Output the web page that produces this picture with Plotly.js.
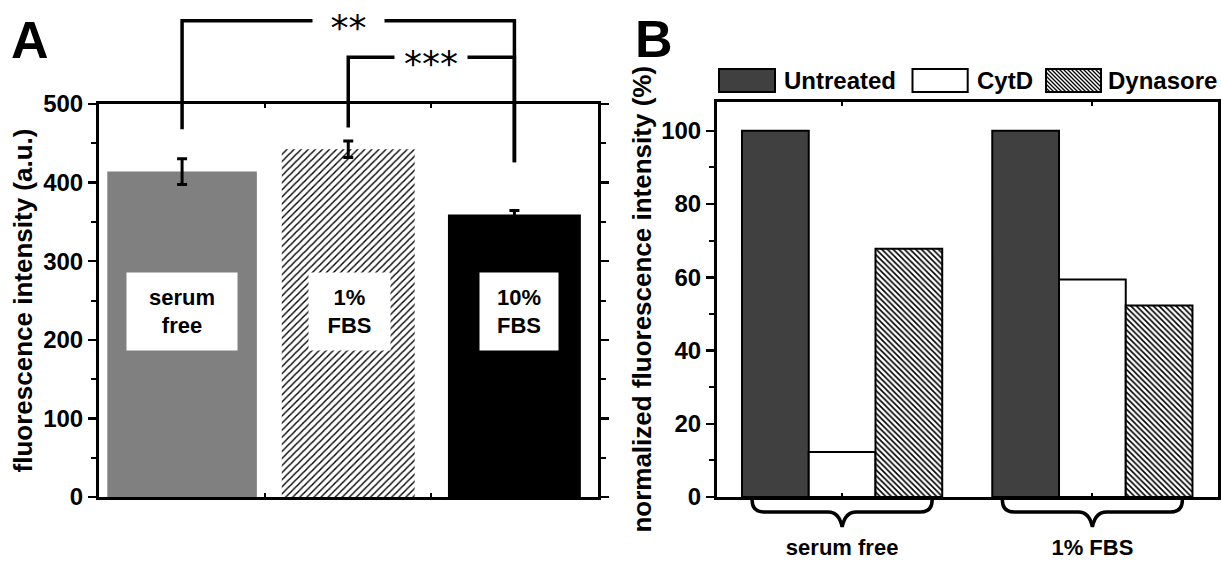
<!DOCTYPE html>
<html>
<head>
<meta charset="utf-8">
<script src="https://cdn.plot.ly/plotly-3.0.1.min.js"></script>
<style>
  html, body { margin: 0; padding: 0; background: #fff; }
  #chart { width: 1221px; height: 561px; }
</style>
</head>
<body>
<div id="chart"></div>
<script>
// ---- Panel A: fluorescence intensity by culture medium ----
const mediaA = ['serum free', '1% FBS', '10% FBS'];
const mediaLabelsA = ['serum<br>free', '1%<br>FBS', '10%<br>FBS'];
const intensityA = [414, 442.5, 359.5];
const intensityErrA = [16.5, 10.5, 5];

// significance comparisons: [first index, second index, label]
const comparisonsA = [[0, 2, '**'], [1, 2, '***']];

// ---- Panel B: normalized intensity by treatment ----
const mediaB = ['serum free', '1% FBS'];
const treatmentsB = ['Untreated', 'CytD', 'Dynasore'];
const untreatedB = [100, 100];
const cytdB = [12.3, 59.4];
const dynasoreB = [67.8, 52.3];

// ---- geometry and style ----
const W = 1221, H = 561;
const FONT = '"Liberation Sans", Arial, Helvetica, sans-serif';
const boxA = { l: 99, r: 597.5, t: 104, b: 497 };
const boxB = { l: 717, r: 1217.5, t: 101.5, b: 497 };
const rangeA = [0, 500];
const rangeB = [0, 108];

const px = v => v / W;
const py = v => 1 - v / H;

// pixel position helpers derived from the subplot boxes and ranges
const catPxA = i => boxA.l + (i + 0.5) / mediaA.length * (boxA.r - boxA.l);
const valPxA = v => boxA.b - (v - rangeA[0]) / (rangeA[1] - rangeA[0]) * (boxA.b - boxA.t);
const catPxB = i => boxB.l + (i + 0.5) / mediaB.length * (boxB.r - boxB.l);

// bracket heights (axis units) for each comparison: top, left leg end, right leg end
const bracketLevels = [[606, 468, 426], [559.5, 470, 426]];
const starGap = [71, 72];

const shapes = [];
const annotations = [];

comparisonsA.forEach((c, k) => {
  const [i, j, label] = c;
  const [top, legL, legR] = bracketLevels[k];
  const x0 = catPxA(i), x1 = catPxA(j);
  const yt = valPxA(top), yl = valPxA(legL), yr = valPxA(legR);
  shapes.push({
    type: 'path', xref: 'paper', yref: 'paper',
    path: `M${px(x0)},${py(yl)}L${px(x0)},${py(yt)}L${px(x1)},${py(yt)}L${px(x1)},${py(yr)}`,
    line: { color: '#000', width: 3.5 }
  });
  annotations.push({
    xref: 'paper', yref: 'paper', x: px((x0 + x1) / 2), y: py(yt + 6),
    text: label, showarrow: false, bgcolor: '#fff', width: starGap[k], height: 30,
    borderpad: 0, xanchor: 'center', yanchor: 'middle',
    font: { family: '"DejaVu Sans", sans-serif', size: 36, color: '#000' }
  });
});

// labels inside the bars of panel A
const labelBoxW = [110, 81, 78];
const labelShift = [0, 1, 5];
mediaA.forEach((m, i) => {
  annotations.push({
    xref: 'x', yref: 'y', x: m, y: 236, text: mediaLabelsA[i], showarrow: false,
    bgcolor: '#fff', width: labelBoxW[i], height: 77, borderpad: 0, xshift: labelShift[i],
    font: { family: FONT, size: 22, color: '#000', weight: 'bold' }
  });
});

// panel letters
annotations.push({ xref: 'paper', yref: 'paper', x: px(29.5), y: py(40.5), text: 'A',
  showarrow: false, xanchor: 'center', yanchor: 'middle',
  font: { family: FONT, size: 52, color: '#000', weight: 'bold' } });
annotations.push({ xref: 'paper', yref: 'paper', x: px(654), y: py(39), text: 'B',
  showarrow: false, xanchor: 'center', yanchor: 'middle',
  font: { family: FONT, size: 52, color: '#000', weight: 'bold' } });

// legend for panel B: swatches drawn as shapes, names as text
function hatchPath(x0, x1, y0, y1, step) {
  const w = x1 - x0, h = y1 - y0;
  let d = '';
  for (let s = -h; s < w; s += step) {
    const t0 = Math.max(0, -s), t1 = Math.min(h, w - s);
    if (t1 <= t0) continue;
    d += `M${px(x0 + s + t0)},${py(y0 + t0)}L${px(x0 + s + t1)},${py(y0 + t1)}`;
  }
  return d;
}
const legendY = [69, 92];
const legendSwatchX = [[719, 775], [912.5, 967.7], [1046, 1101]];
const legendTextX = [782, 975, 1106];
const legendFill = ['#404040', '#ffffff', '#ffffff'];
treatmentsB.forEach((name, k) => {
  const [x0, x1] = legendSwatchX[k];
  shapes.push({ type: 'rect', xref: 'paper', yref: 'paper',
    x0: px(x0), x1: px(x1), y0: py(legendY[1]), y1: py(legendY[0]),
    fillcolor: legendFill[k], line: { color: '#000', width: 2 } });
  if (name === 'Dynasore') {
    shapes.push({ type: 'path', xref: 'paper', yref: 'paper',
      path: hatchPath(x0, x1, legendY[0], legendY[1], 4),
      line: { color: '#000', width: 1.3 } });
    shapes.push({ type: 'rect', xref: 'paper', yref: 'paper',
      x0: px(x0), x1: px(x1), y0: py(legendY[1]), y1: py(legendY[0]),
      line: { color: '#000', width: 2 } });
  }
  annotations.push({ xref: 'paper', yref: 'paper', x: px(legendTextX[k]),
    y: py((legendY[0] + legendY[1]) / 2), text: name, showarrow: false,
    xanchor: 'left', yanchor: 'middle',
    font: { family: FONT, size: 24, color: '#000', weight: 'bold' } });
});

// curly braces grouping the bars of panel B
function bracePath(c, half, yTop, yArm, yTip) {
  const P = (x, y) => `${px(x)},${py(y)}`;
  return `M${P(c - half, yTop)}Q${P(c - half, yArm)} ${P(c - half + 12, yArm)}` +
    `L${P(c - 14, yArm)}Q${P(c - 3, yArm)} ${P(c, yTip)}` +
    `Q${P(c + 3, yArm)} ${P(c + 14, yArm)}L${P(c + half - 12, yArm)}` +
    `Q${P(c + half, yArm)} ${P(c + half, yTop)}`;
}
mediaB.forEach((m, i) => {
  shapes.push({ type: 'path', xref: 'paper', yref: 'paper',
    path: bracePath(catPxB(i), 90, 500, 512, 527),
    line: { color: '#000', width: 3.5 } });
});

// ---- traces ----
// panel A: one trace per medium so each bar can carry its own fill style,
// all sharing one offset group so the bars stay centred on their category
const fillA = ['#808080', '#ffffff', '#000000'];
const patternA = ['', '/', ''];
const widthA = [0.9, 0.8, 0.8];
const traces = mediaA.map((m, i) => ({
  type: 'bar', x: [m], y: [intensityA[i]], xaxis: 'x', yaxis: 'y',
  offsetgroup: 'A', width: [widthA[i]],
  marker: {
    color: fillA[i],
    line: { width: 0 },
    pattern: patternA[i]
      ? { shape: patternA[i], fgcolor: '#000', bgcolor: '#fff', size: 5, solidity: 0.28 }
      : { shape: '' }
  },
  error_y: { type: 'data', array: [intensityErrA[i]], visible: true,
    color: '#000', thickness: 3, width: 5 },
  hoverinfo: 'skip'
}));

traces.push(
  {
    type: 'bar', name: treatmentsB[0], x: mediaB, y: untreatedB, xaxis: 'x2', yaxis: 'y2',
    marker: { color: '#404040', line: { color: '#000', width: 2 } }, hoverinfo: 'skip'
  },
  {
    type: 'bar', name: treatmentsB[1], x: mediaB, y: cytdB, xaxis: 'x2', yaxis: 'y2',
    marker: { color: '#ffffff', line: { color: '#000', width: 2 } }, hoverinfo: 'skip'
  },
  {
    type: 'bar', name: treatmentsB[2], x: mediaB, y: dynasoreB, xaxis: 'x2', yaxis: 'y2',
    marker: { color: '#ffffff', line: { color: '#000', width: 2 },
      pattern: { shape: '\\', fgcolor: '#000', bgcolor: '#fff', size: 4, solidity: 0.4 } },
    hoverinfo: 'skip'
  }
);

const tickFont = { family: FONT, size: 24, color: '#000', weight: 'bold' };
const titleFont = { family: FONT, size: 26, color: '#000', weight: 'bold' };
const axisLine = { showline: true, linecolor: '#000', linewidth: 3, mirror: 'allticks',
  showgrid: false, zeroline: false, fixedrange: true };

const layout = {
  width: W, height: H,
  margin: { l: 0, r: 0, t: 0, b: 0 },
  paper_bgcolor: '#fff', plot_bgcolor: '#fff',
  showlegend: false,
  barmode: 'group', bargap: 0.2, bargroupgap: 0,
  font: { family: FONT, color: '#000' },
  xaxis: Object.assign({}, axisLine, {
    domain: [px(boxA.l), px(boxA.r)], anchor: 'y', type: 'category',
    range: [-0.5, 2.5], showticklabels: false,
    ticks: 'inside', tickson: 'boundaries', ticklen: 4, tickwidth: 2, tickcolor: '#000'
  }),
  yaxis: Object.assign({}, axisLine, {
    domain: [py(boxA.b), py(boxA.t)], anchor: 'x', range: rangeA, dtick: 100,
    ticks: 'outside', ticklen: 8, tickwidth: 2.5, tickcolor: '#000', tickfont: tickFont,
    minor: { dtick: 50, ticks: 'outside', ticklen: 5, tickwidth: 2, tickcolor: '#000' },
    title: { text: 'fluorescence intensity (a.u.)', font: titleFont, standoff: 4 }
  }),
  xaxis2: Object.assign({}, axisLine, {
    domain: [px(boxB.l), px(boxB.r)], anchor: 'y2', type: 'category',
    range: [-0.5, 1.5], ticks: 'inside', ticklen: 4, tickwidth: 2, tickcolor: '#000',
    tickfont: { family: FONT, size: 22, color: '#000', weight: 'bold' },
    ticklabelstandoff: 29
  }),
  yaxis2: Object.assign({}, axisLine, {
    domain: [py(boxB.b), py(boxB.t)], anchor: 'x2', range: rangeB, dtick: 20,
    ticks: 'outside', ticklen: 8, tickwidth: 2.5, tickcolor: '#000', tickfont: tickFont,
    minor: { dtick: 10, ticks: 'outside', ticklen: 5, tickwidth: 2, tickcolor: '#000' },
    title: { text: 'normalized fluorescence intensity (%)', font: titleFont, standoff: 3 }
  }),
  shapes: shapes,
  annotations: annotations
};

Plotly.newPlot('chart', traces, layout, { displayModeBar: false, staticPlot: true });
</script>
</body>
</html>
